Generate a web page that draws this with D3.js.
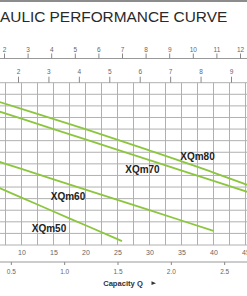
<!DOCTYPE html>
<html>
<head>
<meta charset="utf-8">
<script src="https://d3js.org/d3.v7.min.js"></script>
<style>
  body { margin: 0; background: #fff; }
  svg text { font-family: "Liberation Sans", Arial, sans-serif; }
</style>
</head>
<body>
<div id="chart"></div>
<script>
// capacity Q (L/min) and head values
var models = ["XQm80", "XQm70", "XQm60", "XQm50"];
var q80 = [5, 10, 20, 30, 40, 47];
var h80 = [12.6, 11.75, 10.0, 8.15, 6.25, 4.85];
var q70 = [5, 10, 20, 30, 40, 47];
var h70 = [11.79, 10.9, 9.11, 7.33, 5.53, 4.28];
var q60 = [5, 10, 20, 30, 40];
var h60 = [7.45, 6.56, 4.78, 3.0, 1.22];
var q50 = [5, 10, 15, 20, 25.7];
var h50 = [5.28, 4.09, 2.89, 1.7, 0.34];

var qTicks = [10, 15, 20, 25, 30, 35, 40, 45];
var m3Ticks = [0.5, 1.0, 1.5, 2.0, 2.5];
var topTicksA = [2, 3, 4, 5, 6, 7, 8, 9, 10, 11, 12];
var topTicksB = [2, 3, 4, 5, 6, 7, 8, 9];

var W = 247, H = 296;
var gridTop = 82.7, gridBottom = 245;

var svg = d3.select("#chart").append("svg")
    .attr("width", W).attr("height", H);

svg.append("rect").attr("width", W).attr("height", H).attr("fill", "#fff");

// scales
var x = d3.scaleLinear().domain([10, 45]).range([21.5, 245.5]);
var xM3 = d3.scaleLinear().domain([0.5, 2.5]).range([x(0.5 * 1000 / 60), x(2.5 * 1000 / 60)]);
var xA = d3.scaleLinear().domain([2, 12]).range([4, 240]);
var xB = d3.scaleLinear().domain([2, 9]).range([18, 231]);
var y = d3.scaleLinear().domain([0, 14]).range([gridBottom, gridTop]);

// top border
svg.append("line").attr("x1", 0).attr("x2", W).attr("y1", 1).attr("y2", 1)
    .attr("stroke", "#8c8c8c").attr("stroke-width", 2);

// title (cropped)
svg.append("text").attr("x", 0).attr("y", 22)
    .attr("font-size", 15.4).attr("fill", "#2a2a2a")
    .text("AULIC PERFORMANCE CURVE");

function styleAxis(g, size) {
  g.select(".domain").remove();
  g.selectAll(".tick line").attr("stroke", "#888");
  g.selectAll(".tick text").attr("fill", "#666").attr("font-size", size)
    .attr("font-family", "Liberation Sans, Arial, sans-serif");
}

// top axis A
svg.append("line").attr("x1", 0).attr("x2", W).attr("y1", 58.5).attr("y2", 58.5)
    .attr("stroke", "#999");
svg.append("g").attr("transform", "translate(0,58.5)")
    .call(d3.axisTop(xA).tickValues(topTicksA).tickSize(5).tickPadding(2).tickFormat(d3.format("d")))
    .call(styleAxis, 6.5);

// grid
var g = svg.append("g");
var vLines = d3.range(7.5, 45.1, 2.5);
g.selectAll(".v").data(vLines).enter().append("line")
    .attr("x1", function(d) { return x(d); }).attr("x2", function(d) { return x(d); })
    .attr("y1", gridTop).attr("y2", gridBottom)
    .attr("stroke", "#b0b0b0").attr("stroke-width", 1);
g.selectAll(".h").data(d3.range(0, 15)).enter().append("line")
    .attr("x1", 0).attr("x2", W)
    .attr("y1", function(d) { return y(d); }).attr("y2", function(d) { return y(d); })
    .attr("stroke", "#b0b0b0").attr("stroke-width", 1);

// top axis B
svg.append("g").attr("transform", "translate(0," + gridTop + ")")
    .call(d3.axisTop(xB).tickValues(topTicksB).tickSize(6).tickPadding(3).tickFormat(d3.format("d")))
    .call(styleAxis, 6.5);

// bottom axis Q
svg.append("g").attr("transform", "translate(0," + gridBottom + ")")
    .call(d3.axisBottom(x).tickValues(qTicks).tickSize(0).tickPadding(5.5).tickFormat(d3.format("d")))
    .call(styleAxis, 7);

// bottom axis m3/h
svg.append("line").attr("x1", 0).attr("x2", W).attr("y1", 262).attr("y2", 262)
    .attr("stroke", "#999");
svg.append("g").attr("transform", "translate(0,262)")
    .call(d3.axisBottom(xM3).tickValues(m3Ticks).tickSize(3).tickPadding(4).tickFormat(d3.format(".1f")))
    .call(styleAxis, 6.5);

svg.append("text").attr("x", 123).attr("y", 285.5).attr("text-anchor", "middle")
    .attr("font-size", 7.6).attr("font-weight", "bold").attr("fill", "#333")
    .text("Capacity Q");
svg.append("path").attr("d", "M151.5,281.3L156,283.2L151.5,285.1Z").attr("fill", "#333");

// curves
var clip = svg.append("clipPath").attr("id", "clip")
    .append("rect").attr("x", 0).attr("y", gridTop).attr("width", W).attr("height", gridBottom - gridTop);

var series = [
  { name: models[0], q: q80, h: h80 },
  { name: models[1], q: q70, h: h70 },
  { name: models[2], q: q60, h: h60 },
  { name: models[3], q: q50, h: h50 }
];
var line = d3.line().curve(d3.curveMonotoneX)
    .x(function(d) { return x(d[0]); })
    .y(function(d) { return y(d[1]); });

svg.append("g").attr("clip-path", "url(#clip)")
  .selectAll("path").data(series).enter().append("path")
    .attr("d", function(s) { return line(d3.zip(s.q, s.h)); })
    .attr("fill", "none").attr("stroke", "#8cc63f").attr("stroke-width", 1.8);

// labels
var labelPos = { XQm80: [37.5, 7.33], XQm70: [28.9, 6.21], XQm60: [17.27, 3.88], XQm50: [14.3, 1.08] };
svg.selectAll(".lbl").data(models).enter().append("text")
    .attr("x", function(d) { return x(labelPos[d][0]); })
    .attr("y", function(d) { return y(labelPos[d][1]); })
    .attr("text-anchor", "middle").attr("font-size", 10).attr("font-weight", "bold")
    .attr("fill", "#222")
    .text(function(d) { return d; });
</script>
</body>
</html>
